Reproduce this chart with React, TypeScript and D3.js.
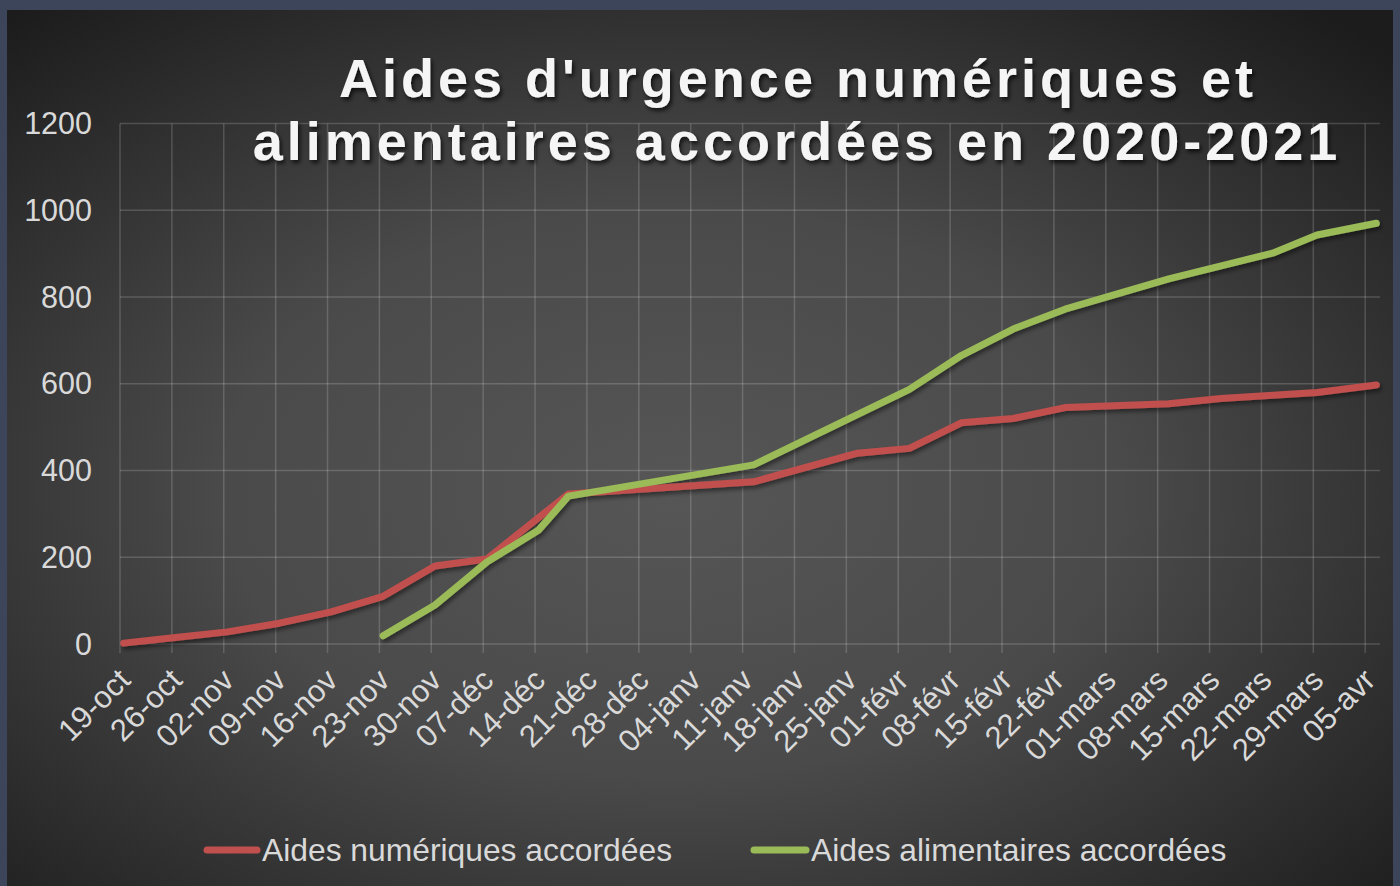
import React from "react";
import * as d3 from "d3";

const numDates = ["2020-10-19","2020-10-26","2020-11-02","2020-11-09","2020-11-16","2020-11-23","2020-11-30","2020-12-07","2020-12-18","2021-01-12","2021-01-26","2021-02-02","2021-02-09","2021-02-16","2021-02-23","2021-03-09","2021-03-16","2021-03-29","2021-04-06"];
const numValues = [2,15,28,48,74,110,180,196,346,374,440,451,510,520,545,554,566,580,597];

const aliDates = ["2020-11-23","2020-11-30","2020-12-07","2020-12-14","2020-12-18","2021-01-12","2021-02-02","2021-02-09","2021-02-16","2021-02-23","2021-03-09","2021-03-23","2021-03-29","2021-04-06"];
const aliValues = [19,90,189,263,341,413,587,665,726,772,842,901,943,970];

const tickLabels = ["19-oct","26-oct","02-nov","09-nov","16-nov","23-nov","30-nov","07-déc","14-déc","21-déc","28-déc","04-janv","11-janv","18-janv","25-janv","01-févr","08-févr","15-févr","22-févr","01-mars","08-mars","15-mars","22-mars","29-mars","05-avr"];
const yTicks = [0,200,400,600,800,1000,1200];

const seriesNames = ["Aides numériques accordées","Aides alimentaires accordées"];
const seriesColors = ["#c0504d","#9bbb59"];

const W = 1400, H = 886;
const left = 120, right = 1380, top = 123.5, bottom = 644;

const parse = (s: string) => new Date(s + "T12:00:00Z");

export default function App() {
  const startDate = new Date("2020-10-19T00:00:00Z");
  const endDate = new Date("2021-04-07T00:00:00Z");
  const x = d3.scaleUtc().domain([startDate, endDate]).range([left, right]);
  const y = d3.scaleLinear().domain([0, 1200]).range([bottom, top]);
  const line = d3.line<[Date, number]>().x(d => x(d[0])).y(d => y(d[1]));
  const numPts: [Date, number][] = numDates.map((d, i) => [parse(d), numValues[i]]);
  const aliPts: [Date, number][] = aliDates.map((d, i) => [parse(d), aliValues[i]]);
  const tickDates = tickLabels.map((_, i) => d3.utcDay.offset(startDate, 7 * i));
  const font = "'Liberation Sans', Arial, sans-serif";
  const grid = "rgba(255,255,255,0.17)";
  const label = "#d9d9d9";

  return (
    <svg width={W} height={H} style={{ position: "absolute", left: 0, top: 0 }} fontFamily={font}>
      <defs>
        <radialGradient id="bg" cx="48%" cy="55%" r="72%">
          <stop offset="0" stopColor="#565656" />
          <stop offset="0.45" stopColor="#4a4a4a" />
          <stop offset="1" stopColor="#1c1c1c" />
        </radialGradient>
        <filter id="sh" x="-5%" y="-5%" width="110%" height="120%">
          <feDropShadow dx="2" dy="3" stdDeviation="2" floodColor="#000" floodOpacity="0.45" />
        </filter>
        <filter id="tsh" x="-5%" y="-20%" width="110%" height="150%">
          <feDropShadow dx="2" dy="3" stdDeviation="2" floodColor="#000" floodOpacity="0.7" />
        </filter>
      </defs>
      <rect x={0} y={0} width={W} height={H} fill="#3c4559" />
      <rect x={7} y={10} width={W - 14} height={H - 10} fill="url(#bg)" />

      {yTicks.map(v => (
        <line key={"h" + v} x1={left} x2={right} y1={y(v)} y2={y(v)} stroke={grid} strokeWidth={1.5} />
      ))}
      {tickDates.map((d, i) => (
        <line key={"v" + i} x1={x(d)} x2={x(d)} y1={top} y2={bottom + 9} stroke={grid} strokeWidth={1.5} />
      ))}

      {yTicks.map(v => (
        <text key={"yl" + v} x={92} y={y(v)} dy="0.35em" textAnchor="end" fontSize={30.5} fill={label}>{v}</text>
      ))}
      {tickDates.map((d, i) => (
        <text key={"xl" + i} transform={`translate(${x(d) + 12},${bottom + 38}) rotate(-45)`} textAnchor="end" fontSize={31} fill={label}>{tickLabels[i]}</text>
      ))}

      <g filter="url(#sh)">
        <path d={line(numPts) || ""} fill="none" stroke={seriesColors[0]} strokeWidth={7} strokeLinejoin="round" strokeLinecap="round" />
        <path d={line(aliPts) || ""} fill="none" stroke={seriesColors[1]} strokeWidth={7} strokeLinejoin="round" strokeLinecap="round" />
      </g>

      <g filter="url(#tsh)" fill="#f5f5f5" fontWeight="bold" fontSize={54} letterSpacing={4} textAnchor="middle">
        <text x={798} y={97}>Aides d'urgence numériques et</text>
        <text x={797} y={160}>alimentaires accordées en 2020-2021</text>
      </g>

      <g>
        <line x1={207} x2={257} y1={850} y2={850} stroke={seriesColors[0]} strokeWidth={7} strokeLinecap="round" />
        <text x={262} y={861} fontSize={31.8} fill={label}>{seriesNames[0]}</text>
        <line x1={754} x2={806} y1={850} y2={850} stroke={seriesColors[1]} strokeWidth={7} strokeLinecap="round" />
        <text x={811} y={861} fontSize={31.8} fill={label}>{seriesNames[1]}</text>
      </g>
    </svg>
  );
}
